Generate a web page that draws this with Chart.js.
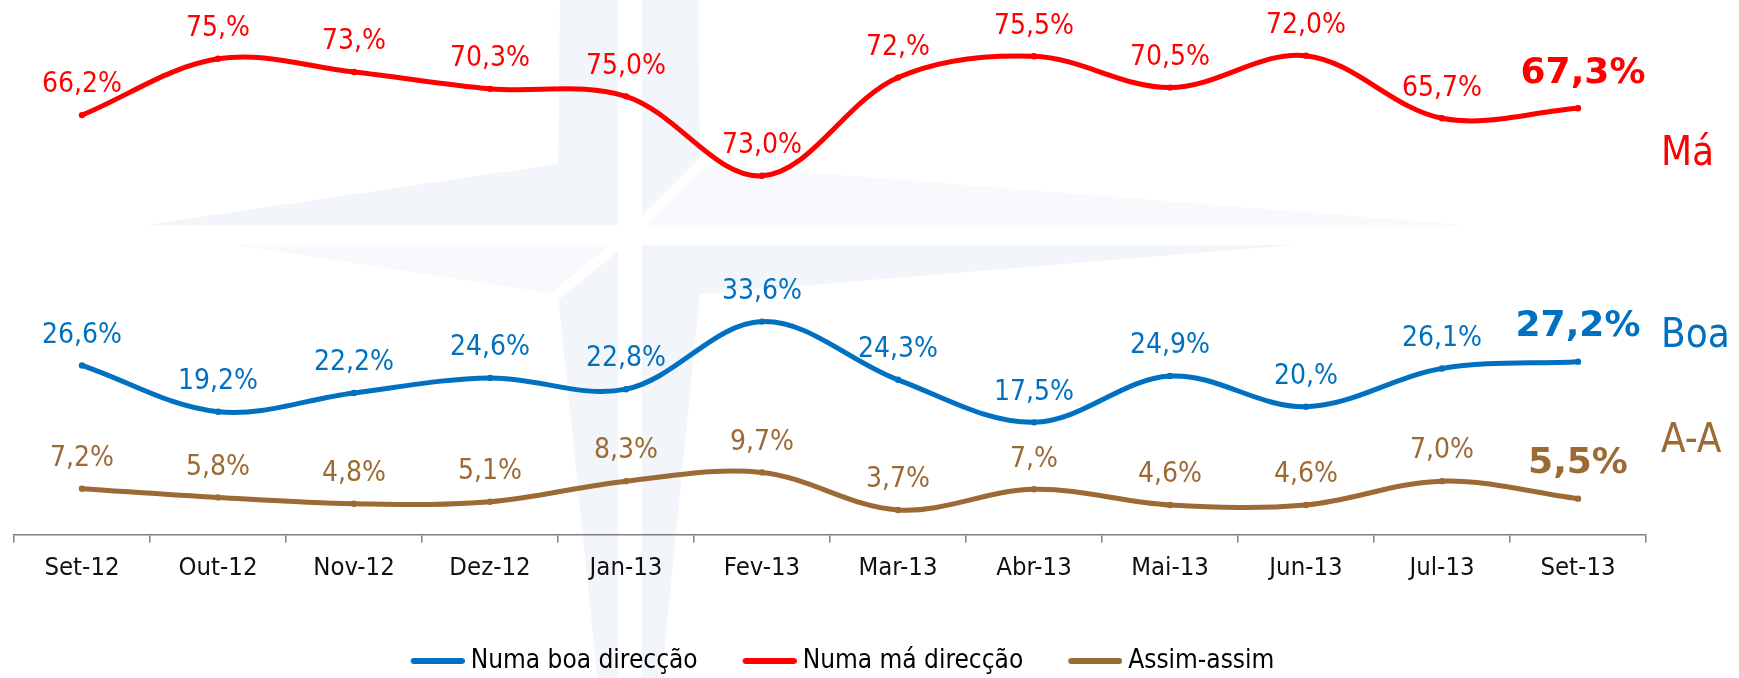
<!DOCTYPE html>
<html>
<head>
<meta charset="utf-8">
<script src="https://cdn.jsdelivr.net/npm/chart.js@4.4.1/dist/chart.umd.min.js"></script>
<style>
  html, body { margin: 0; padding: 0; background: #fff; }
  canvas { display: block; }
</style>
</head>
<body>
<canvas id="chart" width="1739" height="678"></canvas>
<script>
const months = ['Set-12', 'Out-12', 'Nov-12', 'Dez-12', 'Jan-13', 'Fev-13', 'Mar-13', 'Abr-13', 'Mai-13', 'Jun-13', 'Jul-13', 'Set-13'];

const boaValues = [26.6, 19.2, 22.2, 24.6, 22.8, 33.6, 24.3, 17.5, 24.9, 20.0, 26.1, 27.2];
const boaLabels = ['26,6%', '19,2%', '22,2%', '24,6%', '22,8%', '33,6%', '24,3%', '17,5%', '24,9%', '20,%', '26,1%', '27,2%'];

const maValues = [66.6, 75.6, 73.5, 70.8, 69.6, 56.9, 72.6, 76.0, 71.0, 76.1, 66.1, 67.7];
const maLabels = ['66,2%', '75,%', '73,%', '70,3%', '75,0%', '73,0%', '72,%', '75,5%', '70,5%', '72,0%', '65,7%', '67,3%'];

const assimValues = [6.9, 5.5, 4.5, 4.8, 8.1, 9.5, 3.5, 6.8, 4.3, 4.3, 8.1, 5.3];
const assimLabels = ['7,2%', '5,8%', '4,8%', '5,1%', '8,3%', '9,7%', '3,7%', '7,%', '4,6%', '4,6%', '7,0%', '5,5%'];

const seriesNames = ['Numa boa direcção', 'Numa má direcção', 'Assim-assim'];
const sideLabels = ['Boa', 'Má', 'A-A'];
const sideLabelValues = [29.6, 58.55, 12.7];

const BLUE = '#0070c0';
const RED = '#ff0000';
const BROWN = '#9c6a34';
const FONT = "'DejaVu Sans Condensed', 'DejaVu Sans', sans-serif";
const BOLD_FONT = "'DejaVu Sans', sans-serif";

// legend icon: thick line with a dot, drawn in the right part of the image
function makeIcon(color) {
    const c = document.createElement('canvas');
    c.width = 86;
    c.height = 12;
    const g = c.getContext('2d');
    g.strokeStyle = color;
    g.lineWidth = 6;
    g.lineCap = 'round';
    g.beginPath();
    g.moveTo(35, 6);
    g.lineTo(83, 6);
    g.stroke();
    g.fillStyle = color;
    g.beginPath();
    g.arc(59, 6, 3, 0, Math.PI * 2);
    g.fill();
    return c;
}
const legendIcons = [makeIcon(BLUE), makeIcon(RED), makeIcon(BROWN)];

// faint compass star behind the chart
const watermark = {
    id: 'watermark',
    beforeDraw(chart) {
        const ctx = chart.ctx;
        ctx.save();
        ctx.fillStyle = '#f2f5fa';
        ctx.beginPath();
        ctx.moveTo(630, -6000);
        ctx.lineTo(700, 164);
        ctx.lineTo(1500, 228);
        ctx.lineTo(700, 294);
        ctx.lineTo(630, 996);
        ctx.lineTo(558, 294);
        ctx.lineTo(126, 228);
        ctx.lineTo(558, 164);
        ctx.closePath();
        ctx.fill();
        ctx.fillStyle = '#f7f9fc';
        ctx.beginPath();
        ctx.moveTo(630, 235);
        ctx.lineTo(700, 164);
        ctx.lineTo(1500, 228);
        ctx.closePath();
        ctx.moveTo(630, 235);
        ctx.lineTo(558, 294);
        ctx.lineTo(126, 228);
        ctx.closePath();
        ctx.fill();
        ctx.fillStyle = '#fff';
        ctx.fillRect(618, 0, 24, 678);
        ctx.fillRect(0, 225, 1739, 20);
        ctx.strokeStyle = '#fff';
        ctx.lineWidth = 10;
        ctx.beginPath();
        ctx.moveTo(630, 235);
        ctx.lineTo(708, 157);
        ctx.moveTo(630, 235);
        ctx.lineTo(550, 300);
        ctx.stroke();
        ctx.restore();
    }
};

const valueLabels = {
    id: 'valueLabels',
    afterDatasetsDraw(chart) {
        const ctx = chart.ctx;
        chart.data.datasets.forEach((ds, di) => {
            const meta = chart.getDatasetMeta(di);
            meta.data.forEach((pt, i) => {
                const last = i === meta.data.length - 1;
                ctx.save();
                ctx.fillStyle = ds.borderColor;
                ctx.font = last ? 'bold 36px ' + BOLD_FONT : '28px ' + FONT;
                ctx.textAlign = 'center';
                ctx.textBaseline = 'middle';
                const dx = last && di === 1 ? 5 : 0;
                ctx.fillText(ds.valueLabels[i], pt.x + dx, pt.y - (last ? 35 : 30));
                ctx.restore();
            });
        });
    }
};

const sideNames = {
    id: 'sideNames',
    afterDraw(chart) {
        const ctx = chart.ctx;
        const y = chart.scales.y;
        ctx.save();
        ctx.font = '40px ' + FONT;
        ctx.textAlign = 'left';
        ctx.textBaseline = 'alphabetic';
        chart.data.datasets.forEach((ds, di) => {
            ctx.fillStyle = ds.borderColor;
            ctx.fillText(sideLabels[di], chart.chartArea.right + 15, y.getPixelForValue(sideLabelValues[di]));
        });
        ctx.restore();
    }
};

function makeDataset(label, data, labels, color) {
    return {
        label: label,
        data: data,
        valueLabels: labels,
        borderColor: color,
        backgroundColor: color,
        borderWidth: 5,
        pointRadius: 3.2,
        pointBorderWidth: 0,
        pointBackgroundColor: color,
        fill: false,
        tension: 0.35
    };
}

new Chart(document.getElementById('chart'), {
    type: 'line',
    data: {
        labels: months,
        datasets: [
            makeDataset(seriesNames[0], boaValues, boaLabels, BLUE),
            makeDataset(seriesNames[1], maValues, maLabels, RED),
            makeDataset(seriesNames[2], assimValues, assimLabels, BROWN)
        ]
    },
    options: {
        responsive: false,
        animation: false,
        layout: { padding: { left: 14, right: 93, top: 0, bottom: -6 } },
        scales: {
            x: {
                offset: true,
                grid: { offset: true, drawOnChartArea: false, drawTicks: true, tickLength: 8, color: '#808080', lineWidth: 1.5 },
                border: { display: true, color: '#808080', width: 1.5 },
                ticks: { color: '#111', font: { family: FONT, size: 25.5 }, padding: 11, maxRotation: 0, autoSkip: false },
                afterFit(scale) { scale.height = 93.6; }
            },
            y: {
                display: false,
                min: -0.41,
                max: 84.36
            }
        },
        plugins: {
            tooltip: { enabled: false },
            legend: {
                position: 'bottom',
                labels: {
                    usePointStyle: true,
                    pointStyleWidth: 72,
                    padding: 20,
                    color: '#000',
                    font: { family: FONT, size: 26 },
                    generateLabels(chart) {
                        return Chart.defaults.plugins.legend.labels.generateLabels(chart)
                            .map((item, i) => Object.assign(item, { pointStyle: legendIcons[i] }));
                    }
                }
            }
        }
    },
    plugins: [watermark, valueLabels, sideNames]
});
</script>
</body>
</html>
